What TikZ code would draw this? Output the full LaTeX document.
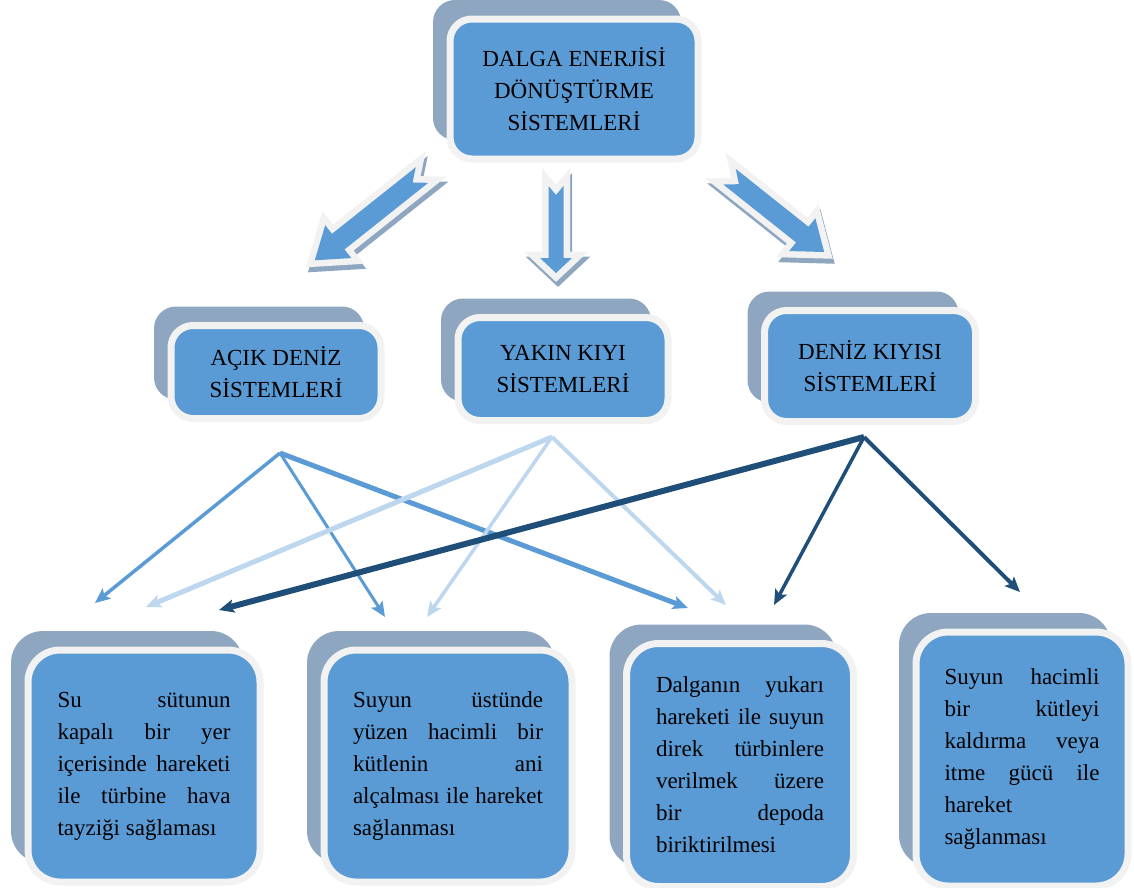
\documentclass[tikz,border=0pt]{standalone}
\usepackage{fontspec}
\setmainfont{Liberation Serif}
\usetikzlibrary{arrows.meta,shadows}

\definecolor{boxblue}{HTML}{5B9BD5}
\definecolor{boxrim}{HTML}{F2F2F2}
\definecolor{boxshade}{HTML}{8EA6BF}
\definecolor{linkmid}{HTML}{5B9BD5}
\definecolor{linklight}{HTML}{BDD7EE}
\definecolor{linkdark}{HTML}{1F4E79}

\tikzset{
	sysbox/.style={draw=boxrim, line width=7pt, fill=boxblue, rounded corners=22pt, inner sep=0pt,
		align=center, font=\fontsize{23}{32}\selectfont,
		general shadow={fill=boxshade, shadow xshift=-17pt, shadow yshift=19pt}},
	descbox/.style={sysbox, rounded corners=32pt, align=justify},
	link/.style={-{Stealth[length=15pt,width=13pt,inset=3pt]}},
}

% blok ok: kuyruk, aci, boy, govde yari genislik, bas yari genislik, bas boyu, centik
\newcommand{\blockarrow}[7]{%
	\begin{scope}[shift={(#1)}, xshift=2pt, yshift=-5pt, rotate=#2]
		\filldraw[boxshade, line width=13pt, line join=miter]
			(0,#4) -- ({#3-#6},#4) -- ({#3-#6},#5) -- (#3,0) -- ({#3-#6},-#5) -- ({#3-#6},-#4) -- (0,-#4) -- (#7,0) -- cycle;
	\end{scope}
	\begin{scope}[shift={(#1)}, rotate=#2]
		\filldraw[boxrim, line width=13pt, line join=miter]
			(0,#4) -- ({#3-#6},#4) -- ({#3-#6},#5) -- (#3,0) -- ({#3-#6},-#5) -- ({#3-#6},-#4) -- (0,-#4) -- (#7,0) -- cycle;
		\fill[boxblue]
			(0,#4) -- ({#3-#6},#4) -- ({#3-#6},#5) -- (#3,0) -- ({#3-#6},-#5) -- ({#3-#6},-#4) -- (0,-#4) -- (#7,0) -- cycle;
	\end{scope}}

\begin{document}
\begin{tikzpicture}[x=1pt,y=-1pt]
	\useasboundingbox (0,0) rectangle (1134,887);

	% ust kutu
	\node (dalga) [sysbox, minimum width=248pt, minimum height=140pt] at (574,89) {DALGA ENERJİSİ\\DÖNÜŞTÜRME\\SİSTEMLERİ};

	% sistemler
	\node (acik) [sysbox, minimum width=210pt, minimum height=93pt] at (276,372) {AÇIK DENİZ\\SİSTEMLERİ};
	\node (yakin) [sysbox, minimum width=210pt, minimum height=103pt] at (563,369) {YAKIN KIYI\\SİSTEMLERİ};
	\node (kiyi) [sysbox, minimum width=211pt, minimum height=111pt] at (870,366) {DENİZ KIYISI\\SİSTEMLERİ};

	% blok oklar
	\coordinate (ok-sol) at (422,175);
	\coordinate (ok-orta) at (556,186);
	\coordinate (ok-sag) at (729.5,176.7);
	\blockarrow{ok-sol}{-141.5}{137}{10}{21}{30}{12}
	\blockarrow{ok-orta}{-90}{87}{7.5}{16}{15}{9}
	\blockarrow{ok-sag}{-38.5}{121}{10}{21}{28}{12}

	% alt kutular
	\node (su) [descbox, minimum width=232pt, minimum height=232pt, text width=173pt] at (144,766)
		{Su sütunun\linebreak kapalı bir yer\linebreak içerisinde hareketi\linebreak ile türbine hava\linebreak tayziği sağlaması};
	\node (yuzen) [descbox, minimum width=248pt, minimum height=232pt, text width=190pt] at (448,766)
		{Suyun üstünde\linebreak yüzen hacimli bir\linebreak kütlenin ani\linebreak alçalması ile hareket\linebreak sağlanması};
	\node (depo) [descbox, minimum width=227pt, minimum height=243pt, text width=168pt] at (740,765)
		{Dalganın yukarı\linebreak hareketi ile suyun\linebreak direk türbinlere\linebreak verilmek üzere\linebreak bir depoda\linebreak biriktirilmesi};
	\node (itme) [descbox, minimum width=212pt, minimum height=254pt, text width=155pt] at (1022,759)
		{Suyun hacimli\linebreak bir kütleyi\linebreak kaldırma veya\linebreak itme gücü ile\linebreak hareket\linebreak sağlanması};

	% ince oklar
	\coordinate (acik-alt) at (280,453);
	\coordinate (yakin-alt) at (552,437);
	\coordinate (kiyi-alt) at (864,437);
	\coordinate (su-a) at (95,603);
	\coordinate (su-b) at (146,607);
	\coordinate (su-c) at (219,610);
	\coordinate (yuzen-a) at (385,617);
	\coordinate (yuzen-b) at (427,617);
	\coordinate (depo-a) at (688,608);
	\coordinate (depo-b) at (726,605);
	\coordinate (depo-c) at (774,605);
	\coordinate (itme-c) at (1020,592);

	\draw [link, linkmid, line width=3.5pt] (acik-alt) -- (su-a);
	\draw [link, linkmid, line width=3pt] (acik-alt) -- (yuzen-a);
	\draw [link, linkmid, line width=5pt] (acik-alt) -- (depo-a);
	\draw [link, linklight, line width=5pt] (yakin-alt) -- (su-b);
	\draw [link, linklight, line width=3.5pt] (yakin-alt) -- (yuzen-b);
	\draw [link, linklight, line width=4pt] (yakin-alt) -- (depo-b);
	\draw [link, linkdark, line width=6pt] (kiyi-alt) -- (su-c);
	\draw [link, linkdark, line width=3.5pt] (kiyi-alt) -- (depo-c);
	\draw [link, linkdark, line width=4pt] (kiyi-alt) -- (itme-c);
\end{tikzpicture}
\end{document}
